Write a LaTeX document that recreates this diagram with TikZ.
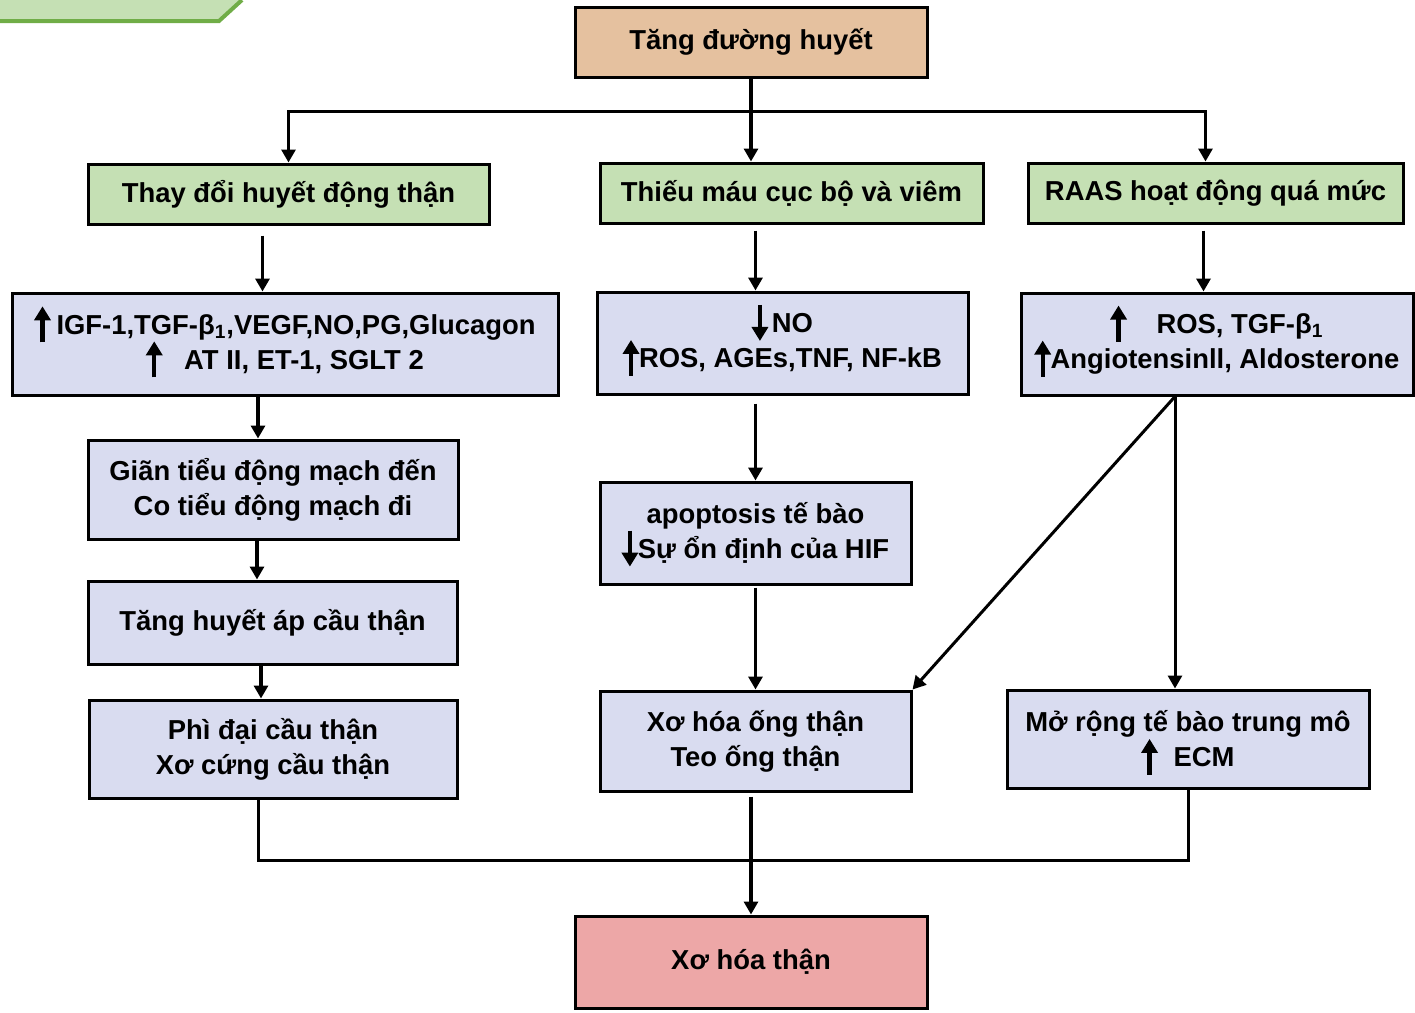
\documentclass[tikz,border=0pt]{standalone}
\usepackage{fontspec}
\setmainfont{Liberation Sans}
\usetikzlibrary{arrows.meta,calc}
\definecolor{SugarPeach}{RGB}{229,193,159}
\definecolor{CauseGreen}{RGB}{197,224,180}
\definecolor{TabGreen}{RGB}{112,173,71}
\definecolor{SoftLilac}{RGB}{217,220,240}
\definecolor{FibroPink}{RGB}{237,167,167}
\newcommand{\incr}{\raisebox{0pt}[0pt][0pt]{\tikz[baseline=4pt]\draw[line width=2.2pt,-{Triangle[width=8pt,length=7pt]}] (0pt,0pt) -- (0pt,18pt);}}
\newcommand{\decr}{\raisebox{0pt}[0pt][0pt]{\tikz[baseline=4pt]\draw[line width=2.2pt,-{Triangle[width=8pt,length=7pt]}] (0pt,18pt) -- (0pt,0pt);}}

\begin{document}
\begin{tikzpicture}[x=0.5pt,y=-0.5pt,font=\bfseries\fontsize{13.7}{17.5}\selectfont,
  box/.style={draw,line width=1.5pt,align=center,inner sep=2pt},
  arr/.style={-{Triangle[width=7pt,length=6.5pt]},line width=1.6pt},
  link/.style={line width=1.5pt}]
\useasboundingbox (0,0) rectangle (1415,1013);
% header tab
\fill[CauseGreen] (0,0) -- (242,0) -- (219,21) -- (0,21) -- cycle;
\draw[TabGreen,line width=2pt] (0,21) -- (219,21) -- (242,0);
% nodes
\node[box,fill=SugarPeach,minimum width=176pt,minimum height=35pt] (top) at (751,42) {Tăng đường huyết};
\node[box,fill=CauseGreen,minimum width=200.5pt,minimum height=30pt] (g1) at (288.5,194) {Thay đổi huyết động thận};
\node[box,fill=CauseGreen,minimum width=191.5pt,minimum height=30pt] (g2) at (791.5,193) {Thiếu máu cục bộ và viêm};
\node[box,fill=CauseGreen,minimum width=187.5pt,minimum height=30pt] (g3) at (1215.5,193) {RAAS hoạt động quá mức};
\node[box,fill=SoftLilac,minimum width=273pt,minimum height=51pt] (r1) at (285,344) {\incr\hspace{3pt}IGF-1,TGF-β\textsubscript{1},VEGF,NO,PG,Glucagon\\\incr\hspace{11pt}AT II, ET-1, SGLT 2};
\node[box,fill=SoftLilac,minimum width=185.5pt,minimum height=51pt] (r2) at (782.5,343) {\decr\hspace{2pt}NO\\\incr ROS, AGEs,TNF, NF-kB};
\node[box,fill=SoftLilac,minimum width=196pt,minimum height=51pt] (r3) at (1217,344) {\incr\hspace{15pt}ROS, TGF-β\textsubscript{1}\\\incr Angiotensinll, Aldosterone};
\node[box,fill=SoftLilac,minimum width=185pt,minimum height=49.5pt] (a1) at (273,489.5) {Giãn tiểu động mạch đến\\Co tiểu động mạch đi};
\node[box,fill=SoftLilac,minimum width=184.5pt,minimum height=41.5pt] (a2) at (272.5,622.5) {Tăng huyết áp cầu thận};
\node[box,fill=SoftLilac,minimum width=184pt,minimum height=49pt] (a3) at (273,749) {Phì đại cầu thận\\Xơ cứng cầu thận};
\node[box,fill=SoftLilac,minimum width=155.5pt,minimum height=51pt] (b1) at (755.5,533) {apoptosis tế bào\\\decr Sự ổn định của HIF};
\node[box,fill=SoftLilac,minimum width=155.5pt,minimum height=50pt] (b2) at (755.5,741) {Xơ hóa ống thận\\Teo ống thận};
\node[box,fill=SoftLilac,minimum width=181pt,minimum height=49pt] (c1) at (1188,739) {Mở rộng tế bào trung mô\\\incr\hspace{8pt}ECM};
\node[box,fill=FibroPink,minimum width=176pt,minimum height=46pt] (fin) at (751,962) {Xơ hóa thận};
\coordinate (bus) at (751,111);
\coordinate (join) at (752,860);
% connectors
\draw[arr] (top.south) -- (top.south |- g2.north);
\draw[arr,link] (bus) -| (g1.north);
\draw[arr,link] (bus) -| ([xshift=-5pt]g3.north);
\draw[arr,shorten <=5pt] ([xshift=-13pt]g1.south) -- ([xshift=-13pt]g1.south |- r1.north);
\draw[arr,shorten <=3pt] ([xshift=-18pt]g2.south) -- ([xshift=-18pt]g2.south |- r2.north);
\draw[arr,shorten <=3pt] ([xshift=-6pt]g3.south) -- ([xshift=-6pt]g3.south |- r3.north);
\draw[arr] ([xshift=-13.5pt]r1.south) -- ([xshift=-13.5pt]r1.south |- a1.north);
\draw[arr] ([xshift=-8pt]a1.south) -- ([xshift=-8pt]a1.south |- a2.north);
\draw[arr] ([xshift=-5.75pt]a2.south) -- ([xshift=-5.75pt]a2.south |- a3.north);
\draw[arr,shorten <=4pt] (r2.south -| b1.north) -- (b1.north);
\draw[arr,shorten <=1pt] (b1.south) -- (b2.north);
\draw[arr,link] ([xshift=-21pt]r3.south) -- (b2.north east);
\draw[arr,link] ([xshift=-21pt]r3.south) -- ([xshift=-21pt]r3.south |- c1.north);
\draw[link] ([xshift=-7.5pt]a3.south) |- (join) -| (c1.south);
\draw[arr,shorten <=2pt] (b2.south -| fin.north) -- (fin.north);
\end{tikzpicture}
\end{document}
